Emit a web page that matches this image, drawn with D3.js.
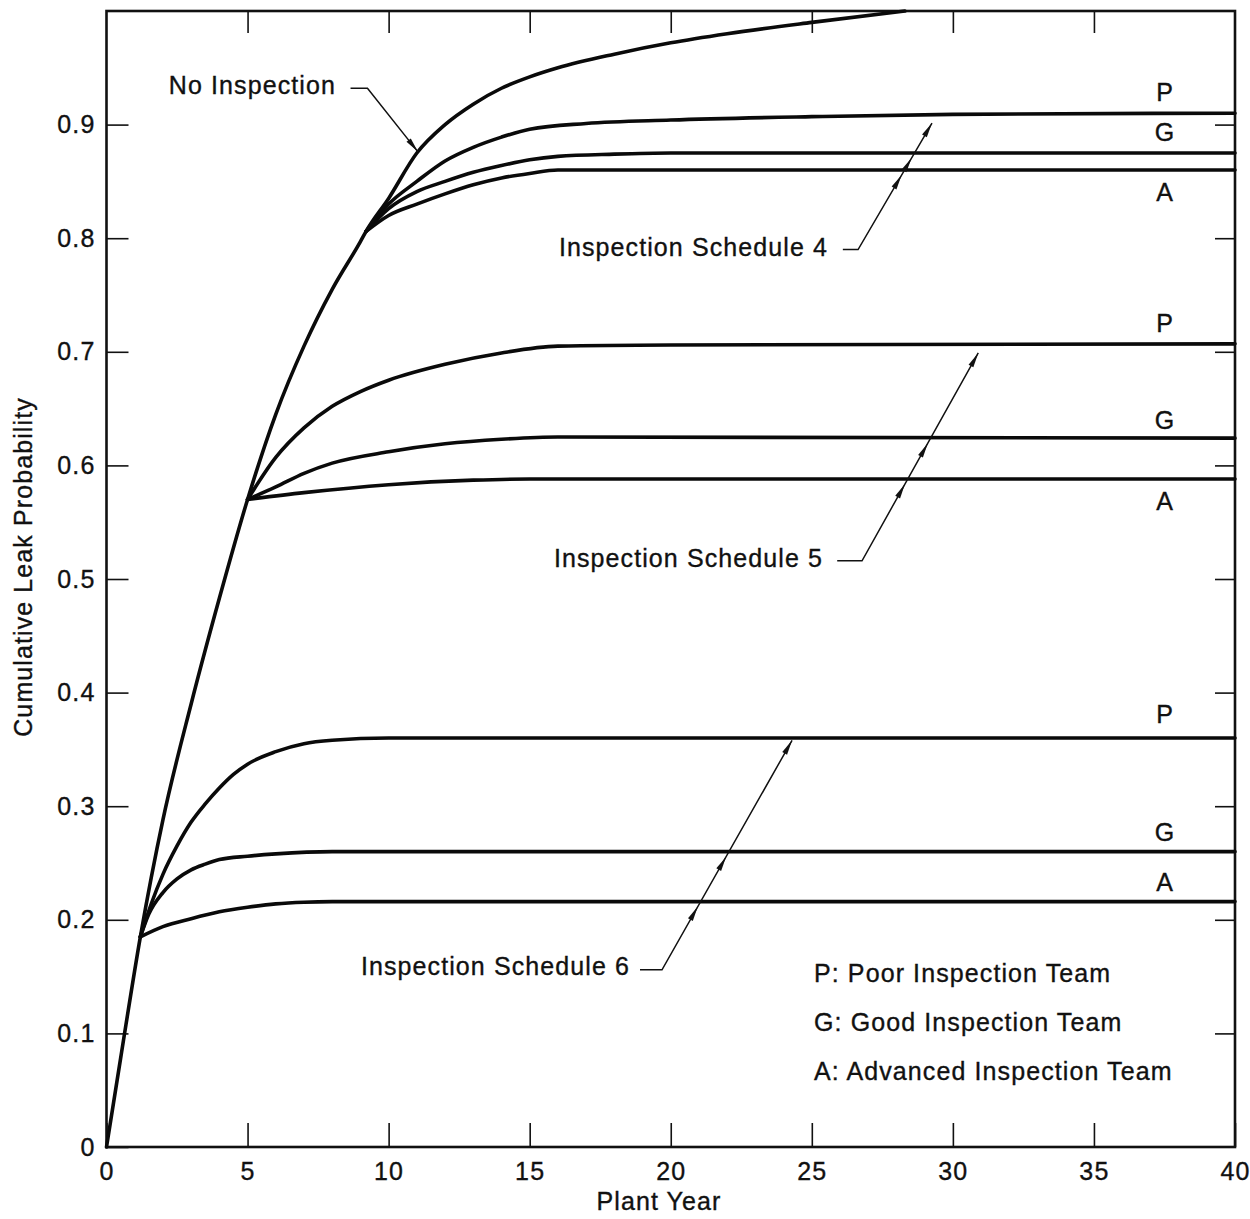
<!DOCTYPE html>
<html>
<head>
<meta charset="utf-8">
<script src="https://cdn.jsdelivr.net/npm/d3@7"></script>
<style>
  body { margin: 0; background: #fff; }
  text { font-family: "Liberation Sans", Arial, Helvetica, sans-serif; fill: #111; stroke: #111; stroke-width: 0.35px; }
</style>
</head>
<body>
<svg id="chart" width="1250" height="1219"></svg>
<script>
// ---- data: cumulative leak probability vs. plant year ----
const xTicks = [0, 5, 10, 15, 20, 25, 30, 35, 40];
const yTicks = [0, 0.1, 0.2, 0.3, 0.4, 0.5, 0.6, 0.7, 0.8, 0.9];

const noInspection = [
  [0, 0], [0.5, 0.078], [1.2, 0.185], [2, 0.288], [3, 0.39], [4, 0.483], [5, 0.57],
  [6, 0.645], [7, 0.705], [8, 0.755], [9, 0.797], [9.2, 0.806], [10, 0.835],
  [11, 0.875], [12, 0.9], [13, 0.918], [14, 0.932], [15, 0.942], [16, 0.95],
  [18, 0.962], [20, 0.972], [22, 0.98], [25, 0.99], [28.3, 1.0]
];

// Inspection schedule 4 (branches near year 9)
const sched4P = [[9.2, 0.806], [10, 0.83], [11, 0.85], [12, 0.868], [13, 0.88], [14, 0.889],
  [15, 0.896], [17, 0.901], [20, 0.904], [25, 0.907], [30, 0.909], [40, 0.91]];
const sched4G = [[9.2, 0.806], [10, 0.826], [11, 0.841], [12, 0.85], [13, 0.858], [14, 0.864],
  [15, 0.869], [16, 0.872], [18, 0.874], [20, 0.875], [40, 0.875]];
const sched4A = [[9.2, 0.806], [10, 0.82], [11, 0.83], [12, 0.839], [13, 0.847], [14, 0.853],
  [15, 0.857], [16, 0.86], [40, 0.86]];

// Inspection schedule 5 (branches at year 5)
const sched5P = [[5, 0.57], [6, 0.607], [7, 0.633], [8, 0.652], [9, 0.665], [10, 0.675],
  [12, 0.689], [14, 0.699], [16, 0.705], [20, 0.706], [40, 0.707]];
const sched5G = [[5, 0.57], [6, 0.581], [7, 0.593], [8, 0.602], [10, 0.612], [12, 0.619],
  [14, 0.623], [16, 0.625], [40, 0.624]];
const sched5A = [[5, 0.57], [7, 0.576], [10, 0.583], [13, 0.587], [15, 0.588], [40, 0.588]];

// Inspection schedule 6 (branches near year 1)
const sched6P = [[1.2, 0.185], [1.6, 0.215], [2, 0.24], [2.5, 0.265], [3, 0.286], [3.5, 0.302],
  [4, 0.316], [4.5, 0.328], [5, 0.337], [6, 0.348], [7, 0.355], [8, 0.358], [10, 0.36], [40, 0.36]];
const sched6G = [[1.2, 0.185], [1.5, 0.205], [2, 0.224], [2.5, 0.236], [3, 0.244], [3.5, 0.249],
  [4, 0.253], [5, 0.256], [6, 0.258], [8, 0.26], [40, 0.26]];
const sched6A = [[1.2, 0.185], [2, 0.194], [3, 0.201], [4, 0.207], [5, 0.211], [6, 0.214],
  [7, 0.2155], [8, 0.216], [40, 0.216]];

const teamLetters = ["P", "G", "A"];
const scheduleNames = ["Inspection Schedule 4", "Inspection Schedule 5", "Inspection Schedule 6"];
const legendLines = ["P: Poor Inspection Team", "G: Good Inspection Team", "A: Advanced Inspection Team"];

// ---- layout ----
const svg = d3.select("#chart");
const plotL = 106.5, plotR = 1235, plotT = 11, plotB = 1147;
const x = d3.scaleLinear().domain([0, 40]).range([plotL, plotR]);
const y = d3.scaleLinear().domain([0, 1]).range([plotB, plotT]);
const FONT = '"Liberation Sans", Arial, Helvetica, sans-serif';

// axes with inward ticks
function styleAxis(g, size) {
  g.select(".domain").remove();
  g.selectAll(".tick line").attr("stroke", "#111").attr("stroke-width", 1.6);
  g.selectAll("text").attr("font-family", FONT).attr("font-size", size)
    .attr("letter-spacing", "1.2px").attr("fill", "#111");
}

svg.append("g").attr("transform", `translate(0,${plotB})`)
  .call(d3.axisBottom(x).tickValues(xTicks).tickSize(-24).tickPadding(15).tickFormat(d3.format("d")))
  .call(g => styleAxis(g, 25));
svg.append("g").attr("transform", `translate(${plotL},0)`)
  .call(d3.axisLeft(y).tickValues(yTicks).tickSize(-22).tickPadding(11)
    .tickFormat(d => d === 0 ? "0" : d3.format(".1f")(d)))
  .call(g => styleAxis(g, 25));
svg.append("g").attr("transform", `translate(0,${plotT})`)
  .call(d3.axisTop(x).tickValues(xTicks.slice(1, -1)).tickSize(-22).tickFormat(""))
  .call(g => styleAxis(g, 25));
svg.append("g").attr("transform", `translate(${plotR},0)`)
  .call(d3.axisRight(y).tickValues(yTicks.slice(1)).tickSize(-20).tickFormat(""))
  .call(g => styleAxis(g, 25));

// frame
svg.append("rect")
  .attr("x", plotL).attr("y", plotT)
  .attr("width", plotR - plotL).attr("height", plotB - plotT)
  .attr("fill", "none").attr("stroke", "#111").attr("stroke-width", 2.6);

// axis titles
svg.append("text")
  .attr("x", 659).attr("y", 1210)
  .attr("text-anchor", "middle").attr("font-size", 25).attr("letter-spacing", "1.1px")
  .text("Plant Year");
svg.append("text")
  .attr("transform", "translate(32,567) rotate(-90)")
  .attr("text-anchor", "middle").attr("font-size", 25).attr("letter-spacing", "1.1px")
  .text("Cumulative Leak Probability");

// curves
const line = d3.line().x(d => x(d[0])).y(d => y(d[1])).curve(d3.curveMonotoneX);
const allSeries = [sched6A, sched6G, sched6P, sched5A, sched5G, sched5P, sched4A, sched4G, sched4P, noInspection];
svg.append("g").selectAll("path").data(allSeries).join("path")
  .attr("d", line)
  .attr("fill", "none").attr("stroke", "#0a0a0a")
  .attr("stroke-width", 3.6).attr("stroke-linejoin", "round").attr("stroke-linecap", "round");

// P / G / A labels at the right end of each schedule's curves
const endLabelY = [[92, 132, 192], [323, 420, 501], [714, 832, 882]];
const endLabels = [];
endLabelY.forEach(row => row.forEach((cy, i) => endLabels.push({ letter: teamLetters[i], cy })));
svg.append("g").selectAll("text").data(endLabels).join("text")
  .attr("x", x(37.5)).attr("y", d => d.cy + 9)
  .attr("text-anchor", "middle").attr("font-size", 25)
  .text(d => d.letter);

// leader lines with arrowheads
function arrowHead(g, tip, dir) {
  const L = 15, W = 5.5;
  const px = -dir[1], py = dir[0];
  const bx = tip[0] - dir[0] * L, by = tip[1] - dir[1] * L;
  g.append("path")
    .attr("d", `M${tip[0]},${tip[1]}L${bx + px * W / 2},${by + py * W / 2}L${bx - px * W / 2},${by - py * W / 2}Z`)
    .attr("fill", "#111");
}

function leader(pts, crossings) {
  const p = pts.map(d => [x(d[0]), y(d[1])]);
  const g = svg.append("g");
  g.append("path").attr("d", d3.line()(p))
    .attr("fill", "none").attr("stroke", "#111").attr("stroke-width", 1.5);
  const a = p[p.length - 2], b = p[p.length - 1];
  const len = Math.hypot(b[0] - a[0], b[1] - a[1]);
  const dir = [(b[0] - a[0]) / len, (b[1] - a[1]) / len];
  crossings.forEach(v => {
    const ty = y(v) + 5;
    const s = (ty - a[1]) / (b[1] - a[1]);
    arrowHead(g, [a[0] + s * (b[0] - a[0]), ty], dir);
  });
  arrowHead(g, b, dir);
}

const lastValue = s => s[s.length - 1][1];

// annotations
const notes = [
  { text: "No Inspection", tx: 336, ty: 94,
    pts: [[8.65, 0.932], [9.25, 0.932], [11.04, 0.876]], cross: [] },
  { text: scheduleNames[0], tx: 828, ty: 256,
    pts: [[26.1, 0.79], [26.64, 0.79], [29.26, 0.9014]], cross: [lastValue(sched4A), lastValue(sched4G)] },
  { text: scheduleNames[1], tx: 823, ty: 567,
    pts: [[25.9, 0.516], [26.78, 0.516], [30.9, 0.699]], cross: [lastValue(sched5A), lastValue(sched5G)] },
  { text: scheduleNames[2], tx: 630, ty: 975,
    pts: [[18.91, 0.156], [19.69, 0.156], [24.3, 0.358]], cross: [lastValue(sched6A), lastValue(sched6G)] }
];
notes.forEach(n => {
  svg.append("text").attr("x", n.tx).attr("y", n.ty)
    .attr("text-anchor", "end").attr("font-size", 25).attr("letter-spacing", "1.1px")
    .text(n.text);
  leader(n.pts, n.cross);
});

// key
svg.append("g").selectAll("text").data(legendLines).join("text")
  .attr("x", 814).attr("y", (d, i) => 982 + i * 49)
  .attr("font-size", 25).attr("letter-spacing", "1.1px")
  .text(d => d);
</script>
</body>
</html>
